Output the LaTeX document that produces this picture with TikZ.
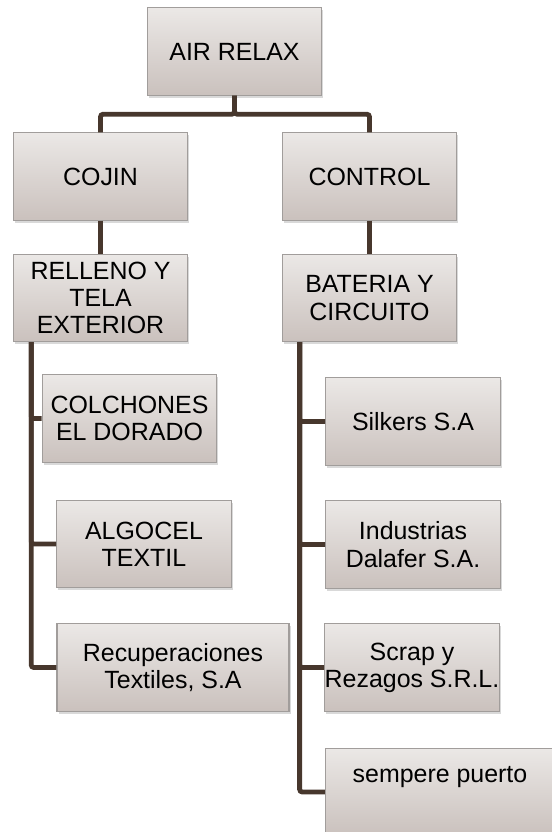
\documentclass[tikz,border=0pt]{standalone}
\usepackage{fontspec}
\setmainfont{Liberation Sans}
\usetikzlibrary{shadows}

\definecolor{boxtop}{HTML}{EBE8E6}
\definecolor{boxbot}{HTML}{CAC1BD}
\definecolor{boxline}{HTML}{A19D9B}
\definecolor{linkcol}{HTML}{47372D}

\tikzset{
  orgbox/.style={draw=boxline, line width=0.8pt, top color=boxtop, bottom color=boxbot,
    minimum width=131pt, minimum height=65.5pt, align=center, inner xsep=0pt, inner ysep=2pt,
    font=\fontsize{18.7}{20.4}\selectfont,
    drop shadow={shadow xshift=1.2pt, shadow yshift=-1.8pt, opacity=0.3}},
  link/.style={draw=linkcol, line width=3.6pt, rounded corners=2pt}
}

\begin{document}
\begin{tikzpicture}[x=0.75pt, y=-0.75pt]

    \useasboundingbox (0,0) rectangle (551,832);

    % Nodos
    \node[orgbox] (air)     at (234.5, 51.5) {AIR RELAX};
    \node[orgbox] (cojin)   at (100.5, 176.5) {COJIN};
    \node[orgbox] (control) at (369.5, 176.5) {CONTROL};
    \node[orgbox] (relleno) at (100.5, 298)   {RELLENO Y\\TELA\\EXTERIOR};
    \node[orgbox] (bateria) at (369.5, 298)   {BATERIA Y\\CIRCUITO};

    % Proveedores cojin
    \node[orgbox] (colchones) at (129.5, 418.5) {COLCHONES\\EL DORADO};
    \node[orgbox] (algocel)   at (144, 544)     {ALGOCEL\\TEXTIL};
    \node[orgbox, minimum width=174pt] (recup) at (173, 667.5) {Recuperaciones\\Textiles, S.A};

    % Proveedores control
    \node[orgbox] (silkers)    at (413, 421.5) {Silkers S.A};
    \node[orgbox] (industrias) at (413, 544.5) {Industrias\\Dalafer S.A.};
    \node[orgbox] (scrap)      at (412, 667.5) {Scrap y\\Rezagos S.R.L.};
    \node[orgbox, minimum width=172pt] (sempere) at (440, 792) {sempere puerto\\\strut};

    % Lineas arriba
    \draw[link] (air.south) -- ++(0,18.5) -| (cojin.north);
    \draw[link] (air.south) -- ++(0,18.5) -| (control.north);
    \draw[link] (cojin.south) -- (relleno.north);
    \draw[link] (control.south) -- (bateria.north);

    % Tronco izquierdo
    \draw[link] ([xshift=13.9pt]relleno.south west) |- (colchones.west);
    \draw[link] ([xshift=13.9pt]relleno.south west) |- (algocel.west);
    \draw[link] ([xshift=13.9pt]relleno.south west) |- (recup.west);

    % Tronco derecho
    \draw[link] ([xshift=13.5pt]bateria.south west) |- (silkers.west);
    \draw[link] ([xshift=13.5pt]bateria.south west) |- (industrias.west);
    \draw[link] ([xshift=13.5pt]bateria.south west) |- (scrap.west);
    \draw[link] ([xshift=13.5pt]bateria.south west) |- (sempere.west);

\end{tikzpicture}
\end{document}
